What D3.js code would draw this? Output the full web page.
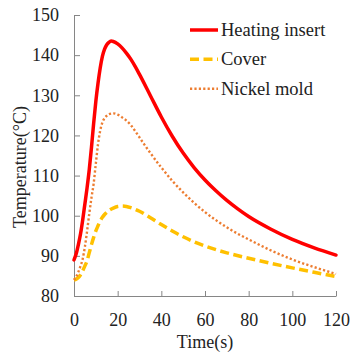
<!DOCTYPE html>
<html>
<head>
<meta charset="utf-8">
<script src="https://cdn.jsdelivr.net/npm/d3@7/dist/d3.min.js"></script>
<style>
  html, body { margin: 0; padding: 0; background: #fff; }
  svg { display: block; }
  text { font-family: "Liberation Serif", "Times New Roman", serif; fill: #222; }
</style>
</head>
<body>
<svg id="chart" width="350" height="354"></svg>
<script>
// ---- data ----
const seriesNames = ["Heating insert", "Cover", "Nickel mold"];
const seriesColors = ["#FF0000", "#FFC000", "#ED7D31"];

const heatingTime = [0,1,2,3,4,5,6,7,8,9,10,11,12,13,14,15,16,17,18,20,22,24,26,28,30,35,40,45,50,55,60,65,70,75,80,90,100,110,120];
const heatingTemp = [89,90.5,92.8,95.5,99,103,107,111.5,117,123,128.5,133,136.8,139.7,141.5,142.6,143.2,143.5,143.4,142.8,141.8,140.5,139.0,137.2,135.2,129.9,124.6,119.8,115.6,112.0,108.9,106.2,103.8,101.7,99.8,96.7,94.1,92.0,90.2];

const coverTime = [0,1,2,3,4,5,6,7,8,9,10,11,12,13,14,16,18,20,22,24,26,28,30,35,40,45,50,55,60,65,70,80,90,100,110,120];
const coverTemp = [84,84.2,84.6,85.3,86.3,87.5,88.8,90.8,92.8,94.6,96.2,97.5,98.7,99.6,100.3,101.3,101.9,102.3,102.4,102.3,102,101.6,101.1,99.5,97.8,96.2,94.75,93.5,92.45,91.55,90.75,89.4,88.15,87.0,85.9,84.85];

const nickelTime = [0,1,2,3,4,5,6,7,8,9,10,11,12,13,14,15,16,18,20,22,24,26,28,30,32,35,40,45,50,55,60,65,70,75,80,90,100,110,120];
const nickelTemp = [84,84.8,86,87.5,89.3,92.3,96.2,100.5,104.5,108,113,117.8,121.2,123.2,124.3,124.9,125.3,125.5,125.2,124.5,123.7,122.6,121.1,119.5,117.9,115.6,112.0,108.7,105.8,103.2,100.9,98.9,97.1,95.5,94.1,91.4,89.1,87.2,85.5];

const xTicks = [0,20,40,60,80,100,120];
const yTicks = [80,90,100,110,120,130,140,150];

const seriesData = [
  heatingTime.map((t,i) => ({t, v: heatingTemp[i]})),
  coverTime.map((t,i) => ({t, v: coverTemp[i]})),
  nickelTime.map((t,i) => ({t, v: nickelTemp[i]}))
];

// ---- layout ----
const margin = {left: 74, right: 14, top: 15, bottom: 58};
const W = 350, H = 354;
const svg = d3.select("#chart");

const x = d3.scaleLinear().domain([0,120]).range([margin.left, W - margin.right]);
const y = d3.scaleLinear().domain([80,150]).range([H - margin.bottom, margin.top]);

const axisColor = "#868686";

const xAxis = svg.append("g")
  .attr("transform", `translate(0,${y(80)})`)
  .call(d3.axisBottom(x).tickValues(xTicks).tickSizeInner(-5).tickSizeOuter(0).tickPadding(17));
const yAxis = svg.append("g")
  .attr("transform", `translate(${x(0)},0)`)
  .call(d3.axisLeft(y).tickValues(yTicks).tickSizeInner(-6).tickSizeOuter(0).tickPadding(15));

[xAxis, yAxis].forEach(g => {
  g.selectAll("path, line").attr("stroke", axisColor).attr("stroke-width", 1);
  g.selectAll("text").style("font-family", '"Liberation Serif", serif').style("font-size", "18px").attr("fill", "#222");
});

// axis titles
svg.append("text")
  .attr("x", (x(0) + x(120)) / 2).attr("y", 348)
  .attr("text-anchor", "middle").style("font-size", "18px")
  .text("Time(s)");
svg.append("text")
  .attr("transform", `translate(26,167) rotate(-90)`)
  .attr("text-anchor", "middle").style("font-size", "18px")
  .text("Temperature(°C)");

// ---- lines ----
const line = d3.line().x(d => x(d.t)).y(d => y(d.v)).curve(d3.curveMonotoneX);
const styles = [
  {width: 3.5, dash: null, cap: "round"},
  {width: 3.5, dash: "9,4.5", cap: "butt"},
  {width: 2.4, dash: "2.2,2.2", cap: "butt"}
];

seriesData.forEach((data, i) => {
  svg.append("path")
    .datum(data)
    .attr("fill", "none")
    .attr("stroke", seriesColors[i])
    .attr("stroke-width", styles[i].width)
    .attr("stroke-dasharray", styles[i].dash)
    .attr("stroke-linecap", styles[i].cap)
    .attr("stroke-linejoin", "round")
    .attr("d", line);
});

// ---- legend ----
const legendRows = [30, 59.3, 88.7];
const legend = svg.append("g");
seriesNames.forEach((name, i) => {
  legend.append("line")
    .attr("x1", 190).attr("x2", 218)
    .attr("y1", legendRows[i]).attr("y2", legendRows[i])
    .attr("stroke", seriesColors[i])
    .attr("stroke-width", styles[i].width)
    .attr("stroke-dasharray", styles[i].dash);
  legend.append("text")
    .attr("x", 221).attr("y", legendRows[i] + 6)
    .style("font-size", "18.5px")
    .text(name);
});
</script>
</body>
</html>
